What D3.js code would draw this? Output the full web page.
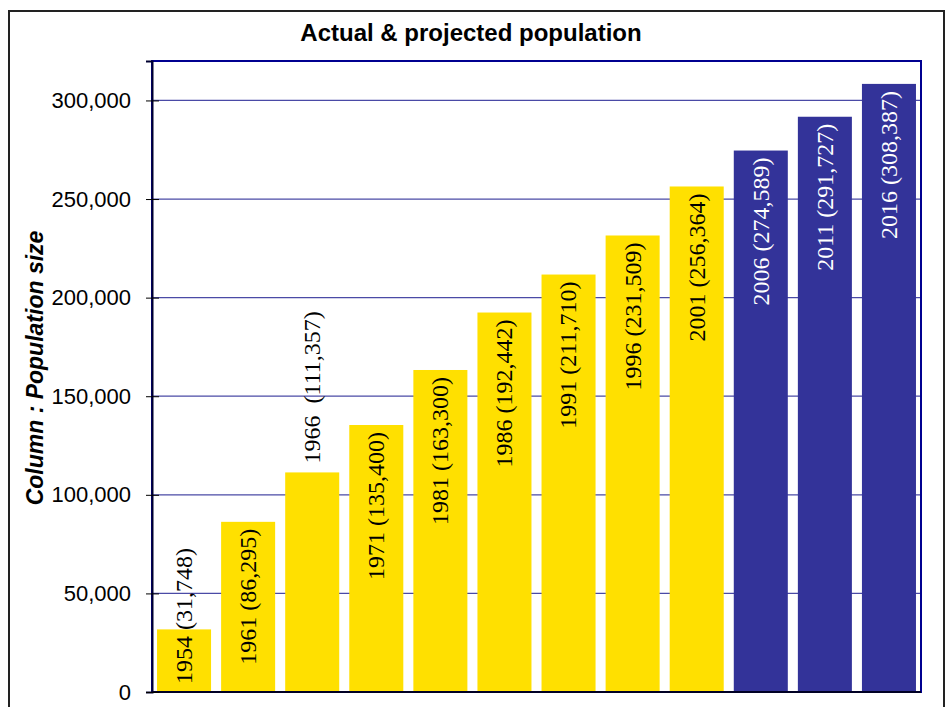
<!DOCTYPE html>
<html>
<head>
<meta charset="utf-8">
<script src="https://cdn.jsdelivr.net/npm/d3@7"></script>
<style>
  html, body { margin: 0; padding: 0; background: #fff; }
  svg { display: block; }
</style>
</head>
<body>
<svg id="chart" width="951" height="707"></svg>
<script>
// ---- data ----
const years = ["1954", "1961", "1966", "1971", "1981", "1986", "1991", "1996", "2001", "2006", "2011", "2016"];
const population = [31748, 86295, 111357, 135400, 163300, 192442, 211710, 231509, 256364, 274589, 291727, 308387];
const projected = [false, false, false, false, false, false, false, false, false, true, true, true];
const labelTexts = ["1954 (31,748)", "1961 (86,295)", "1966  (111,357)", "1971 (135,400)", "1981 (163,300)", "1986 (192,442)", "1991 (211,710)", "1996 (231,509)", "2001 (256,364)", "2006 (274,589)", "2011 (291,727)", "2016 (308,387)"];
const yTicks = [0, 50000, 100000, 150000, 200000, 250000, 300000];
const titleText = "Actual & projected population";
const yAxisTitle = "Column : Population size";
const outsideLabelYears = ["1966"];

// ---- layout ----
const svg = d3.select("#chart");
const plot = { left: 152, right: 921, top: 61, bottom: 692 };

const x = d3.scaleBand().domain(years).range([plot.left, plot.right]).paddingInner(0.157).paddingOuter(0.0785);
const y = d3.scaleLinear().domain([0, 320000]).range([plot.bottom, plot.top]);

// outer frame
svg.append("rect").attr("x", 9).attr("y", 11).attr("width", 935).attr("height", 710)
  .attr("fill", "#fff").attr("stroke", "#222").attr("stroke-width", 2);

// title
svg.append("text").attr("x", 471).attr("y", 41).attr("text-anchor", "middle")
  .attr("font-family", "Liberation Sans, Arial, sans-serif").attr("font-weight", "bold")
  .attr("font-size", 24).attr("fill", "#000").text(titleText);

// gridlines
svg.append("g").selectAll("line").data(yTicks.filter(d => d > 0)).join("line")
  .attr("x1", plot.left).attr("x2", plot.right)
  .attr("y1", d => y(d)).attr("y2", d => y(d))
  .attr("stroke", "#4a4aa6").attr("stroke-width", 1.2);

// bars
svg.append("g").selectAll("rect").data(years).join("rect")
  .attr("x", d => x(d)).attr("width", x.bandwidth())
  .attr("y", (d, i) => y(population[i]))
  .attr("height", (d, i) => y(0) - y(population[i]))
  .attr("fill", (d, i) => projected[i] ? "#333399" : "#FFE000");

// plot border
svg.append("rect").attr("x", plot.left).attr("y", plot.top)
  .attr("width", plot.right - plot.left).attr("height", plot.bottom - plot.top)
  .attr("fill", "none").attr("stroke", "#000090").attr("stroke-width", 2);

// bottom axis line
svg.append("line").attr("x1", plot.left).attr("x2", plot.right)
  .attr("y1", y(0)).attr("y2", y(0)).attr("stroke", "#000").attr("stroke-width", 1.5);

// y axis
const yAxis = d3.axisLeft(y).tickValues(yTicks).tickFormat(d3.format(",")).tickSize(6).tickPadding(15);
const gy = svg.append("g").attr("transform", `translate(${plot.left},0)`).call(yAxis);
gy.select(".domain").attr("stroke", "#000030").attr("stroke-width", 2);
gy.selectAll(".tick line").attr("stroke", "#000").attr("x2", -6).attr("x1", 7);
gy.selectAll(".tick text").attr("font-family", "Liberation Sans, Arial, sans-serif")
  .attr("font-size", 22).attr("fill", "#000");

// y axis title
svg.append("text").attr("transform", `translate(43,368) rotate(-90)`).attr("text-anchor", "middle")
  .attr("font-family", "Liberation Sans, Arial, sans-serif").attr("font-weight", "bold")
  .attr("font-style", "italic").attr("font-size", 23).attr("fill", "#000").text(yAxisTitle);

// data labels
const pad = 7;
const lg = svg.append("g");
years.forEach((yr, i) => {
  const cx = x(yr) + x.bandwidth() / 2;
  const t = lg.append("text")
    .attr("font-family", "Liberation Serif, Times New Roman, serif")
    .attr("font-size", 24)
    .style("white-space", "pre")
    .attr("fill", projected[i] ? "#fff" : "#000")
    .attr("dy", "0.33em")
    .text(labelTexts[i]);
  const len = t.node().getComputedTextLength();
  const top = y(population[i]);
  let anchor, ypos;
  if (outsideLabelYears.includes(yr)) {
    anchor = "start"; ypos = top - 9;
  } else if (top + pad + len > plot.bottom - 8) {
    anchor = "start"; ypos = plot.bottom - 8;
  } else {
    anchor = "end"; ypos = top + pad;
  }
  t.attr("text-anchor", anchor).attr("transform", `translate(${cx},${ypos}) rotate(-90)`);
});
</script>
</body>
</html>
